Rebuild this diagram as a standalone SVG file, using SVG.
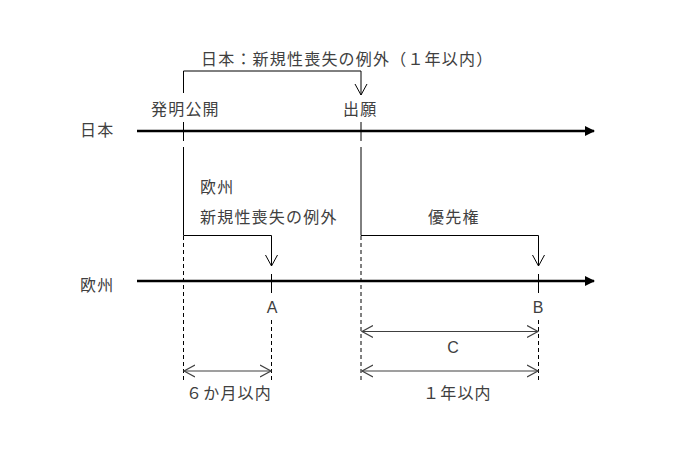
<svg xmlns="http://www.w3.org/2000/svg" width="700" height="451" viewBox="0 0 700 451">
<style>
text{font-family:"Noto Sans CJK JP","Noto Sans",sans-serif;font-size:16px;fill:#404040;letter-spacing:1.2px}
.lat{font-family:"Liberation Sans","Noto Sans CJK JP",sans-serif;letter-spacing:0}
.ln{stroke:#000;stroke-width:1;fill:none}
.ax{stroke:#000;stroke-width:2.5;fill:none}
.da{stroke:#000;stroke-width:1;stroke-dasharray:4 3;fill:none}
.dim{stroke:#404040;stroke-width:1.2;fill:none}
</style>
<defs>
<marker id="tri" markerWidth="10" markerHeight="10" refX="9" refY="5" orient="auto" markerUnits="userSpaceOnUse">
<path d="M0,0 L10,5 L0,10 Z" fill="#000"/>
</marker>
<marker id="vee" markerWidth="14" markerHeight="14" refX="11" refY="7" orient="auto" markerUnits="userSpaceOnUse">
<path d="M0,1 L11,7 L0,13" fill="none" stroke="#000" stroke-width="1"/>
</marker>
<marker id="veeg" markerWidth="14" markerHeight="14" refX="11" refY="7" orient="auto-start-reverse" markerUnits="userSpaceOnUse">
<path d="M0,1 L11,7 L0,13" fill="none" stroke="#404040" stroke-width="1.2"/>
</marker>
</defs>
<g id="labels">
<text x="80" y="136">日本</text>
<text x="80" y="291">欧州</text>
<text x="201" y="65">日本：新規性喪失の例外（１年以内）</text>
<text x="151" y="115">発明公開</text>
<text x="343" y="115">出願</text>
<text x="200" y="193">欧州</text>
<text x="200" y="223">新規性喪失の例外</text>
<text x="428" y="223">優先権</text>
<text class="lat" x="272" y="313" text-anchor="middle">A</text>
<text class="lat" x="538" y="313" text-anchor="middle">B</text>
<text class="lat" x="453" y="353" text-anchor="middle">C</text>
<text x="186" y="399">６か月以内</text>
<text x="423" y="399">１年以内</text>
</g>
<g id="connectors">
<line class="ax" x1="137" y1="131" x2="594" y2="131" marker-end="url(#tri)"/>
<line class="ax" x1="137" y1="281" x2="594" y2="281" marker-end="url(#tri)"/>
<line class="ln" x1="183.5" y1="122" x2="183.5" y2="141"/>
<line class="ln" x1="361" y1="122" x2="361" y2="141"/>
<line class="ln" x1="271.5" y1="274" x2="271.5" y2="293"/>
<line class="ln" x1="538.5" y1="274" x2="538.5" y2="293"/>
<path class="ln" d="M183.5,93 V71 H361 V95" marker-end="url(#vee)"/>
<path class="ln" d="M183.5,147 V235.5 H271.5 V266" marker-end="url(#vee)"/>
<path class="ln" d="M361,147 V235.5 H538.5 V266" marker-end="url(#vee)"/>
<line class="da" x1="183.5" y1="236" x2="183.5" y2="381"/>
<line class="da" x1="361" y1="236" x2="361" y2="381"/>
<line class="da" x1="271.5" y1="320" x2="271.5" y2="381"/>
<line class="da" x1="538.5" y1="320" x2="538.5" y2="381"/>
<line class="dim" x1="184" y1="371" x2="271" y2="371" marker-start="url(#veeg)" marker-end="url(#veeg)"/>
<line class="dim" x1="362" y1="331.5" x2="538" y2="331.5" marker-start="url(#veeg)" marker-end="url(#veeg)"/>
<line class="dim" x1="362" y1="371" x2="538" y2="371" marker-start="url(#veeg)" marker-end="url(#veeg)"/>
</g>
</svg>
